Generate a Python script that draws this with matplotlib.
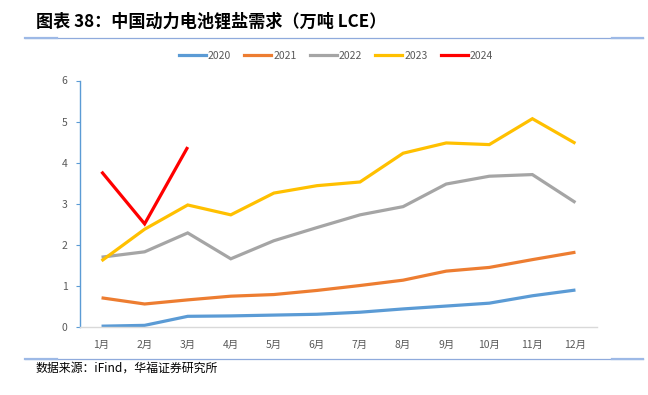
import matplotlib
matplotlib.use("Agg")
import matplotlib.pyplot as plt
from matplotlib.lines import Line2D

plt.rcParams["font.family"] = ["Noto Sans CJK SC", "DejaVu Sans"]

months = ["1月", "2月", "3月", "4月", "5月", "6月", "7月", "8月", "9月", "10月", "11月", "12月"]
y2020 = [0.02, 0.04, 0.26, 0.27, 0.29, 0.31, 0.36, 0.44, 0.51, 0.58, 0.76, 0.90]
y2021 = [0.71, 0.56, 0.66, 0.75, 0.79, 0.89, 1.01, 1.14, 1.36, 1.45, 1.64, 1.82]
y2022 = [1.70, 1.83, 2.29, 1.66, 2.10, 2.42, 2.73, 2.93, 3.48, 3.67, 3.71, 3.03]
y2023 = [1.61, 2.38, 2.97, 2.73, 3.26, 3.44, 3.53, 4.23, 4.48, 4.44, 5.07, 4.47]
y2024 = [3.78, 2.51, 4.38]

series = [
    ("2020", y2020, "#5B9BD5"),
    ("2021", y2021, "#ED7D31"),
    ("2022", y2022, "#A5A5A5"),
    ("2023", y2023, "#FFC000"),
    ("2024", y2024, "#FF0000"),
]

fig = plt.figure(figsize=(6.48, 3.95), dpi=100)
ax = fig.add_axes([80 / 648, 1 - 327 / 395, 517 / 648, 246.5 / 395])

x = list(range(1, 13))
for name, vals, color in series:
    ax.plot(x[:len(vals)], vals, color=color, lw=2.3, label=name,
            solid_joinstyle="miter", solid_capstyle="butt")

ax.set_xlim(0.5, 12.5)
ax.set_ylim(0, 6)
ax.set_xticks(x)
ax.set_xticklabels(months)
ax.set_yticks(range(7))
ax.tick_params(axis="x", length=0, labelsize=7.5, colors="#595959", pad=9)
ax.tick_params(axis="y", length=3, width=0.8, color="#5B9BD5", labelsize=7.5,
               labelcolor="#595959", pad=6)
for s in ["top", "right"]:
    ax.spines[s].set_visible(False)
ax.spines["left"].set_color("#5B9BD5")
ax.spines["left"].set_linewidth(1.0)
ax.spines["bottom"].set_color("#D9D9D9")
ax.spines["bottom"].set_linewidth(1.0)

handles = [Line2D([], [], color=c, lw=2.3) for _, _, c in series]
fig.legend(handles, [n for n, _, _ in series], loc="center", ncol=5,
           bbox_to_anchor=(336 / 648, 1 - 56 / 395), frameon=False,
           fontsize=7.5, labelcolor="#595959", handlelength=2.6,
           handletextpad=0.2, columnspacing=1.25)

fig.text(36 / 648, 1 - 22 / 395, "图表 38：中国动力电池锂盐需求（万吨 LCE）",
         fontsize=12.3, fontweight="bold", va="center", ha="left", color="black")
fig.text(35 / 648, 1 - 368 / 395, "数据来源：iFind，华福证券研究所",
         fontsize=8.6, va="center", ha="left", color="black")

for yy in [37.7, 359]:
    fig.add_artist(Line2D([25 / 648, 643 / 648], [1 - yy / 395] * 2,
                          color="#8FAADC", lw=0.9))
    fig.add_artist(Line2D([25 / 648, 57 / 648], [1 - yy / 395] * 2,
                          color="#9DB9E6", lw=1.6))
    fig.add_artist(Line2D([612 / 648, 643 / 648], [1 - yy / 395] * 2,
                          color="#9DB9E6", lw=1.6))

fig.savefig("out.png", dpi=100)
